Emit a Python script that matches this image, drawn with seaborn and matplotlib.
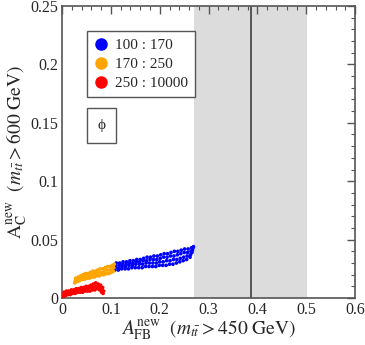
import numpy as np
import pandas as pd
import matplotlib
matplotlib.use("Agg")
import matplotlib.pyplot as plt
from matplotlib.ticker import MultipleLocator
import seaborn as sns

# ---- data ----
blue_x = [0.108, 0.109, 0.110, 0.111, 0.115, 0.116, 0.117, 0.118, 0.122, 0.123, 0.124, 0.125,
          0.129, 0.130, 0.131, 0.132, 0.136, 0.137, 0.138, 0.139, 0.143, 0.144, 0.145, 0.146,
          0.150, 0.151, 0.152, 0.153, 0.157, 0.158, 0.159, 0.160, 0.164, 0.165, 0.166, 0.167,
          0.171, 0.172, 0.173, 0.174, 0.178, 0.179, 0.180, 0.181, 0.185, 0.186, 0.187, 0.188,
          0.192, 0.193, 0.194, 0.195, 0.199, 0.200, 0.201, 0.202, 0.206, 0.207, 0.208, 0.209,
          0.213, 0.214, 0.215, 0.216, 0.220, 0.221, 0.222, 0.223, 0.227, 0.228, 0.229, 0.230,
          0.234, 0.235, 0.236, 0.237, 0.241, 0.242, 0.243, 0.244, 0.248, 0.249, 0.250, 0.251,
          0.255, 0.256, 0.257, 0.258, 0.262, 0.263, 0.264, 0.265, 0.266, 0.267, 0.268, 0.269]
blue_y = [0.024, 0.026, 0.028, 0.030, 0.024, 0.026, 0.028, 0.030, 0.025, 0.027, 0.029, 0.031,
          0.025, 0.027, 0.029, 0.031, 0.025, 0.028, 0.030, 0.032, 0.026, 0.028, 0.030, 0.032,
          0.026, 0.029, 0.031, 0.033, 0.026, 0.029, 0.031, 0.033, 0.026, 0.029, 0.032, 0.034,
          0.027, 0.030, 0.032, 0.035, 0.027, 0.030, 0.033, 0.035, 0.027, 0.030, 0.033, 0.036,
          0.027, 0.030, 0.033, 0.036, 0.028, 0.031, 0.034, 0.037, 0.028, 0.031, 0.035, 0.038,
          0.028, 0.032, 0.035, 0.038, 0.029, 0.032, 0.036, 0.039, 0.029, 0.033, 0.036, 0.040,
          0.030, 0.033, 0.037, 0.040, 0.031, 0.034, 0.038, 0.041, 0.032, 0.035, 0.039, 0.042,
          0.033, 0.036, 0.039, 0.042, 0.035, 0.037, 0.040, 0.043, 0.039, 0.041, 0.043, 0.044]

orange_x = [0.026, 0.027, 0.028, 0.031, 0.032, 0.033, 0.036, 0.037, 0.038, 0.041, 0.042, 0.043,
            0.046, 0.047, 0.048, 0.051, 0.052, 0.053, 0.056, 0.057, 0.058, 0.061, 0.062, 0.063,
            0.066, 0.067, 0.068, 0.071, 0.072, 0.073, 0.076, 0.077, 0.078, 0.081, 0.082, 0.083,
            0.086, 0.087, 0.088, 0.091, 0.092, 0.093, 0.096, 0.097, 0.098, 0.101, 0.102, 0.103,
            0.105, 0.106, 0.107]
orange_y = [0.013, 0.015, 0.017, 0.014, 0.016, 0.018, 0.015, 0.017, 0.019, 0.016, 0.018, 0.020,
            0.016, 0.018, 0.021, 0.017, 0.019, 0.021, 0.017, 0.019, 0.022, 0.018, 0.020, 0.023,
            0.018, 0.021, 0.023, 0.019, 0.021, 0.024, 0.019, 0.022, 0.025, 0.020, 0.022, 0.025,
            0.020, 0.023, 0.026, 0.021, 0.024, 0.027, 0.021, 0.024, 0.027, 0.022, 0.025, 0.028,
            0.023, 0.026, 0.029]

red_x = [0.002, 0.003, 0.004, 0.007, 0.008, 0.009, 0.012, 0.013, 0.014, 0.017, 0.018, 0.019,
         0.022, 0.023, 0.024, 0.027, 0.028, 0.029, 0.032, 0.033, 0.034, 0.037, 0.038, 0.039,
         0.042, 0.043, 0.044, 0.047, 0.048, 0.049, 0.052, 0.053, 0.054, 0.057, 0.058, 0.059,
         0.062, 0.063, 0.064, 0.067, 0.068, 0.069, 0.072, 0.073, 0.074, 0.077, 0.078, 0.079,
         0.081, 0.082, 0.083, 0.084, 0.085]
red_y = [0.001, 0.003, 0.005, 0.002, 0.004, 0.006, 0.003, 0.005, 0.006, 0.003, 0.005, 0.007,
         0.004, 0.006, 0.007, 0.004, 0.006, 0.008, 0.005, 0.006, 0.008, 0.005, 0.007, 0.009,
         0.005, 0.007, 0.009, 0.006, 0.008, 0.010, 0.006, 0.008, 0.010, 0.006, 0.009, 0.011,
         0.007, 0.009, 0.012, 0.007, 0.010, 0.013, 0.008, 0.010, 0.012, 0.007, 0.009, 0.011,
         0.005, 0.007, 0.009, 0.004, 0.006]

labels = ["100 : 170", "170 : 250", "250 : 10000"]
colors = ["#0000ff", "#ffa500", "#ff0000"]

x_ticks = [0, 0.1, 0.2, 0.3, 0.4, 0.5, 0.6]
x_ticklabels = ["0", "0.1", "0.2", "0.3", "0.4", "0.5", "0.6"]
y_ticks = [0, 0.05, 0.1, 0.15, 0.2, 0.25]
y_ticklabels = ["0", "0.05", "0.1", "0.15", "0.2", "0.25"]

band_lo, band_hi, band_center = 0.271, 0.502, 0.387

df = pd.DataFrame({
    "x": blue_x + orange_x + red_x,
    "y": blue_y + orange_y + red_y,
    "group": [labels[0]] * len(blue_x) + [labels[1]] * len(orange_x) + [labels[2]] * len(red_x),
})

sns.set_style("white")
plt.rcParams["font.family"] = ["Liberation Serif", "DejaVu Serif"]
plt.rcParams["mathtext.fontset"] = "stix"

fig = plt.figure(figsize=(3.65, 3.45), dpi=100)
ax = fig.add_axes([0.170, 0.136, 0.803, 0.847])

ax.axvspan(band_lo, band_hi, color="#dcdcdc", lw=0, zorder=0)
ax.axvline(band_center, color="#555555", lw=1.4, zorder=1)

sns.scatterplot(data=df, x="x", y="y", hue="group", hue_order=labels,
                palette=dict(zip(labels, colors)), s=7, marker="o",
                edgecolor="none", ax=ax, legend=False, zorder=3)

ax.set_xlim(0, 0.6)
ax.set_ylim(0, 0.25)
ax.set_xticks(x_ticks)
ax.set_xticklabels(x_ticklabels)
ax.set_yticks(y_ticks)
ax.set_yticklabels(y_ticklabels)
ax.xaxis.set_minor_locator(MultipleLocator(0.02))
ax.yaxis.set_minor_locator(MultipleLocator(0.01))
ax.tick_params(which="both", direction="in", top=True, right=True, color="#555555",
               labelsize=11.5, pad=3)
ax.tick_params(which="major", length=6, width=1)
ax.tick_params(which="minor", length=3, width=0.8)
for s in ax.spines.values():
    s.set_color("#555555")
    s.set_linewidth(1.2)

ax.set_xlabel(r"$A_{\rm FB}^{\rm new}$  $(m_{t\bar{t}} > 450\ {\rm GeV})$", fontsize=14, labelpad=0)
ax.set_ylabel(r"$\mathrm{A}_{\rm C}^{\rm new}$  $(m_{t\bar{t}} > 600\ {\rm GeV})$", fontsize=14, labelpad=1)

handles = [plt.Line2D([], [], marker="o", ls="none", color=c, markersize=8) for c in colors]
leg = ax.legend(handles, labels, loc="upper left", bbox_to_anchor=(0.085, 0.913),
                frameon=True, fancybox=False, framealpha=1, edgecolor="#555555",
                fontsize=11, handletextpad=0.4, borderpad=0.45, labelspacing=0.35,
                handlelength=1.0, borderaxespad=0)
leg.get_frame().set_linewidth(1.0)

ax.text(0.135, 0.591, "ϕ", transform=ax.transAxes, ha="center", va="center", fontsize=11,
        bbox=dict(boxstyle="square,pad=0.7", fc="white", ec="#555555", lw=1.0))

fig.savefig("out.png", dpi=100)
